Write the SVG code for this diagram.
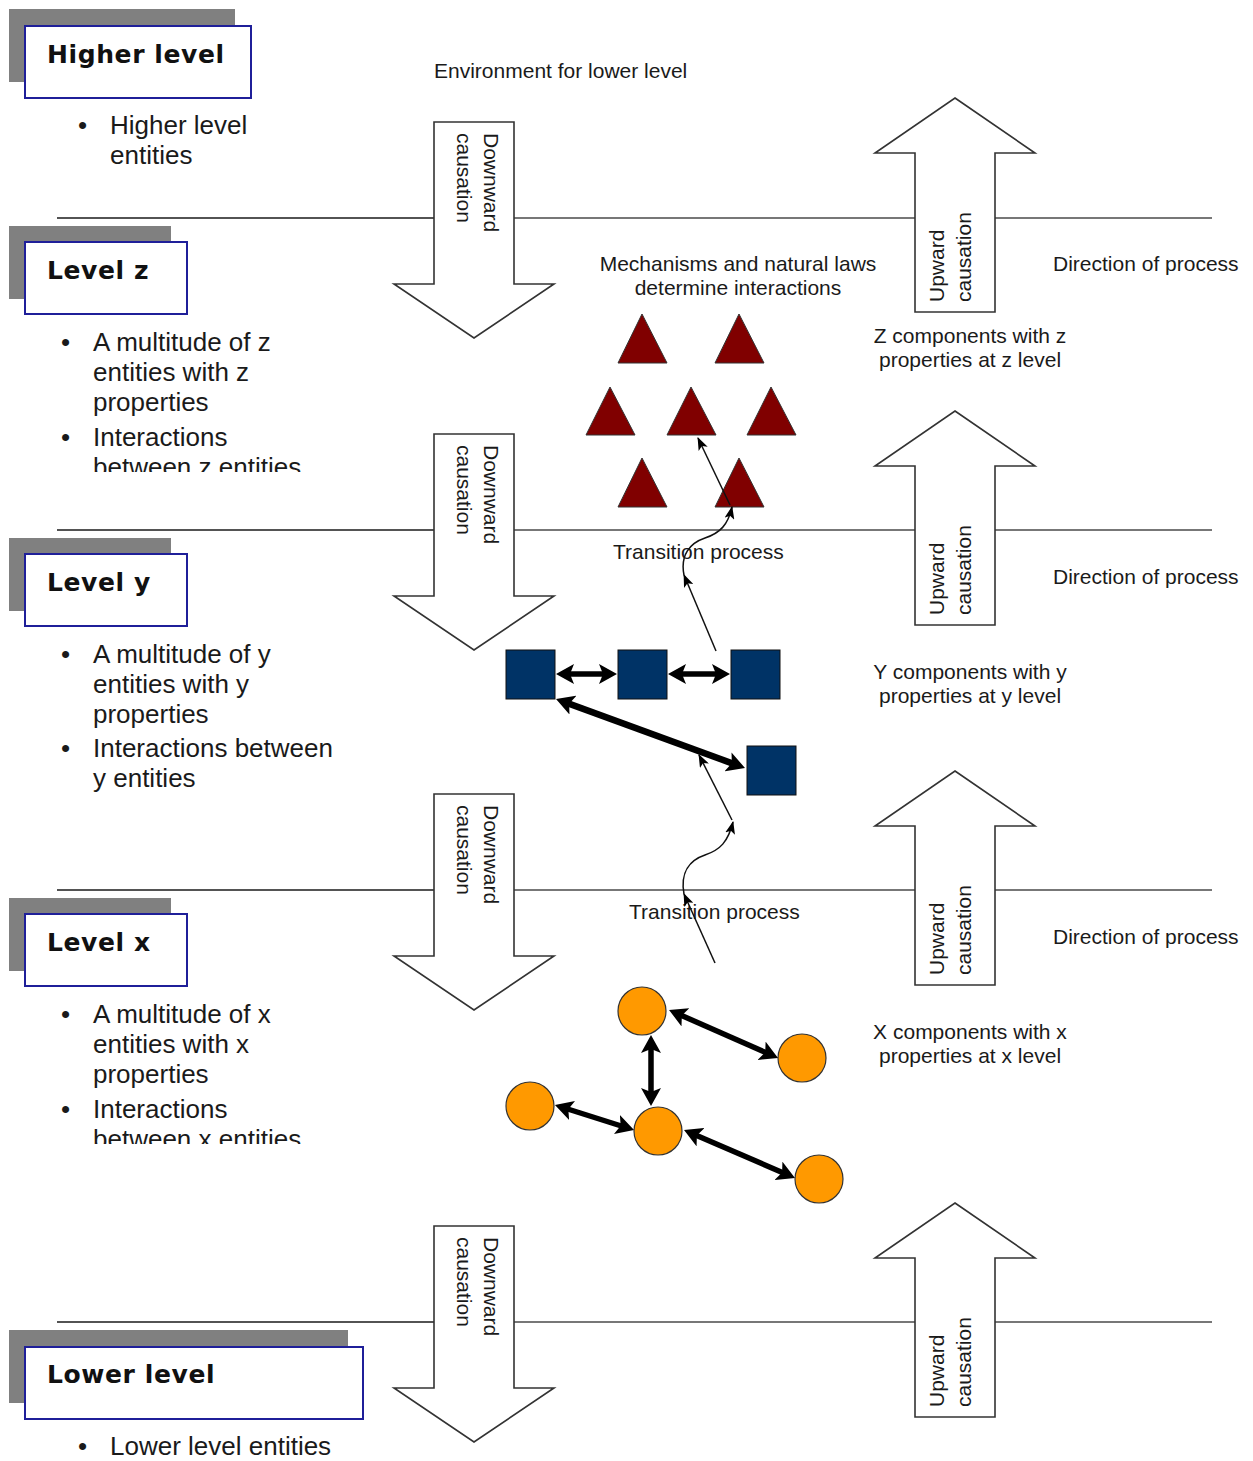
<svg xmlns="http://www.w3.org/2000/svg" width="1253" height="1461" viewBox="0 0 1253 1461">
<style>
.lbl{font-family:"Liberation Sans",Arial,sans-serif;font-size:21px;fill:#1a1a1a}
.bul{font-family:"Liberation Sans",Arial,sans-serif;font-size:26px;fill:#1a1a1a}
.ttl{font-family:"DejaVu Sans",Verdana,sans-serif;font-size:25px;font-weight:bold;letter-spacing:0.6px;fill:#111}
.shadow{fill:#808080}
.box{fill:#fff;stroke:#1f1f99;stroke-width:2}
.bigarrow{fill:#fff;stroke:#333;stroke-width:1.6}
.tri{fill:#800000;stroke:#333;stroke-width:1}
.sq{fill:#003366;stroke:#111;stroke-width:1}
.circ{fill:#ff9900;stroke:#333;stroke-width:1.2}
.thick{stroke:#000;stroke-width:5.5;fill:none;marker-start:url(#dbl);marker-end:url(#dbl)}
.thin{stroke:#111;stroke-width:1.5;fill:none;marker-end:url(#thin)}
.divL{stroke:#1a1a1a;stroke-width:1.6}
.divR{stroke:#777;stroke-width:1.8}
</style>
<defs>
<marker id="dbl" markerUnits="userSpaceOnUse" markerWidth="18" markerHeight="20" refX="8" refY="10" orient="auto-start-reverse" viewBox="0 0 18 20">
<path d="M0,0 L18,10 L0,20 L4,10 Z" fill="#000"/>
</marker>
<marker id="thin" markerUnits="userSpaceOnUse" markerWidth="13" markerHeight="10" refX="12" refY="5" orient="auto" viewBox="0 0 13 10">
<path d="M0,0 L13,5 L0,10 L3,5 Z" fill="#000"/>
</marker>
<clipPath id="clipZ"><rect x="0" y="300" width="400" height="172"/></clipPath>
<clipPath id="clipX"><rect x="0" y="972" width="400" height="172"/></clipPath>
</defs>

<g id="dividers">
<line class="divL" x1="57" y1="218" x2="434" y2="218"/><line class="divR" x1="434" y1="218" x2="1212" y2="218"/>
<line class="divL" x1="57" y1="530" x2="434" y2="530"/><line class="divR" x1="434" y1="530" x2="1212" y2="530"/>
<line class="divL" x1="57" y1="890" x2="434" y2="890"/><line class="divR" x1="434" y1="890" x2="1212" y2="890"/>
<line class="divL" x1="57" y1="1322" x2="434" y2="1322"/><line class="divR" x1="434" y1="1322" x2="1212" y2="1322"/>
</g>

<g id="level-higher">
<rect class="shadow" x="9" y="9" width="226" height="73"/>
<rect class="box" x="25" y="26" width="226" height="72"/>
<text class="ttl" x="47" y="63">Higher level</text>
<text class="bul" x="78" y="134">•</text>
<text class="bul" x="110" y="134">Higher level</text>
<text class="bul" x="110" y="164">entities</text>
</g>

<g id="level-z">
<rect class="shadow" x="9" y="226" width="162" height="73"/>
<rect class="box" x="25" y="242" width="162" height="72"/>
<text class="ttl" x="47" y="279">Level z</text>
<g clip-path="url(#clipZ)">
<text class="bul" x="61" y="351">•</text>
<text class="bul" x="93" y="351">A multitude of z</text>
<text class="bul" x="93" y="381">entities with z</text>
<text class="bul" x="93" y="411">properties</text>
<text class="bul" x="61" y="446">•</text>
<text class="bul" x="93" y="446">Interactions</text>
<text class="bul" x="93" y="476">between z entities</text>
</g>
</g>

<g id="level-y">
<rect class="shadow" x="9" y="538" width="162" height="73"/>
<rect class="box" x="25" y="554" width="162" height="72"/>
<text class="ttl" x="47" y="591">Level y</text>
<text class="bul" x="61" y="663">•</text>
<text class="bul" x="93" y="663">A multitude of y</text>
<text class="bul" x="93" y="693">entities with y</text>
<text class="bul" x="93" y="723">properties</text>
<text class="bul" x="61" y="757">•</text>
<text class="bul" x="93" y="757">Interactions between</text>
<text class="bul" x="93" y="787">y entities</text>
</g>

<g id="level-x">
<rect class="shadow" x="9" y="898" width="162" height="73"/>
<rect class="box" x="25" y="914" width="162" height="72"/>
<text class="ttl" x="47" y="951">Level x</text>
<g clip-path="url(#clipX)">
<text class="bul" x="61" y="1023">•</text>
<text class="bul" x="93" y="1023">A multitude of x</text>
<text class="bul" x="93" y="1053">entities with x</text>
<text class="bul" x="93" y="1083">properties</text>
<text class="bul" x="61" y="1118">•</text>
<text class="bul" x="93" y="1118">Interactions</text>
<text class="bul" x="93" y="1148">between x entities</text>
</g>
</g>

<g id="level-lower">
<rect class="shadow" x="9" y="1330" width="339" height="73"/>
<rect class="box" x="25" y="1347" width="338" height="72"/>
<text class="ttl" x="47" y="1383">Lower level</text>
<text class="bul" x="78" y="1455">•</text>
<text class="bul" x="110" y="1455">Lower level entities</text>
</g>

<g id="down-1">
<polygon class="bigarrow" points="434,122 514,122 514,284 554,284 474,338 394,284 434,284"/>
<text class="lbl" transform="translate(484,133) rotate(90)"><tspan x="0" y="0">Downward</tspan><tspan x="0" y="27">causation</tspan></text>
</g>
<g id="down-2">
<polygon class="bigarrow" points="434,434 514,434 514,596 554,596 474,650 394,596 434,596"/>
<text class="lbl" transform="translate(484,445) rotate(90)"><tspan x="0" y="0">Downward</tspan><tspan x="0" y="27">causation</tspan></text>
</g>
<g id="down-3">
<polygon class="bigarrow" points="434,794 514,794 514,956 554,956 474,1010 394,956 434,956"/>
<text class="lbl" transform="translate(484,805) rotate(90)"><tspan x="0" y="0">Downward</tspan><tspan x="0" y="27">causation</tspan></text>
</g>
<g id="down-4">
<polygon class="bigarrow" points="434,1226 514,1226 514,1388 554,1388 474,1442 394,1388 434,1388"/>
<text class="lbl" transform="translate(484,1237) rotate(90)"><tspan x="0" y="0">Downward</tspan><tspan x="0" y="27">causation</tspan></text>
</g>

<g id="up-1">
<polygon class="bigarrow" points="955,98 1035,153 995,153 995,312 915,312 915,153 875,153"/>
<text class="lbl" transform="translate(944,302) rotate(-90)"><tspan x="0" y="0">Upward</tspan><tspan x="0" y="27">causation</tspan></text>
</g>
<g id="up-2">
<polygon class="bigarrow" points="955,411 1035,466 995,466 995,625 915,625 915,466 875,466"/>
<text class="lbl" transform="translate(944,615) rotate(-90)"><tspan x="0" y="0">Upward</tspan><tspan x="0" y="27">causation</tspan></text>
</g>
<g id="up-3">
<polygon class="bigarrow" points="955,771 1035,826 995,826 995,985 915,985 915,826 875,826"/>
<text class="lbl" transform="translate(944,975) rotate(-90)"><tspan x="0" y="0">Upward</tspan><tspan x="0" y="27">causation</tspan></text>
</g>
<g id="up-4">
<polygon class="bigarrow" points="955,1203 1035,1258 995,1258 995,1417 915,1417 915,1258 875,1258"/>
<text class="lbl" transform="translate(944,1407) rotate(-90)"><tspan x="0" y="0">Upward</tspan><tspan x="0" y="27">causation</tspan></text>
</g>

<g id="labels">
<text class="lbl" x="434" y="78">Environment for lower level</text>
<text class="lbl" x="738" y="271" text-anchor="middle">Mechanisms and natural laws</text>
<text class="lbl" x="738" y="295" text-anchor="middle">determine interactions</text>
<text class="lbl" x="1053" y="271">Direction of process</text>
<text class="lbl" x="1053" y="584">Direction of process</text>
<text class="lbl" x="1053" y="944">Direction of process</text>
<text class="lbl" x="970" y="343" text-anchor="middle">Z components with z</text>
<text class="lbl" x="970" y="367" text-anchor="middle">properties at z level</text>
<text class="lbl" x="970" y="679" text-anchor="middle">Y components with y</text>
<text class="lbl" x="970" y="703" text-anchor="middle">properties at y level</text>
<text class="lbl" x="970" y="1039" text-anchor="middle">X components with x</text>
<text class="lbl" x="970" y="1063" text-anchor="middle">properties at x level</text>
<text class="lbl" x="613" y="559">Transition process</text>
<text class="lbl" x="629" y="919">Transition process</text>
</g>

<g id="z-entities">
<polygon id="tri1" class="tri" points="642,314 667,363 618,363"/>
<polygon id="tri2" class="tri" points="739,314 764,363 715,363"/>
<polygon id="tri3" class="tri" points="610,387 635,435 586,435"/>
<polygon id="tri4" class="tri" points="691,387 716,435 667,435"/>
<polygon id="tri5" class="tri" points="771,387 796,435 747,435"/>
<polygon id="tri6" class="tri" points="642,458 667,507 618,507"/>
<polygon id="tri7" class="tri" points="739,458 764,507 715,507"/>
</g>

<g id="y-entities">
<rect id="sq1" class="sq" x="506" y="650" width="49" height="49"/>
<rect id="sq2" class="sq" x="618" y="650" width="49" height="49"/>
<rect id="sq3" class="sq" x="731" y="650" width="49" height="49"/>
<rect id="sq4" class="sq" x="747" y="746" width="49" height="49"/>
</g>

<g id="x-entities">
<circle id="c1" class="circ" cx="642" cy="1011" r="24"/>
<circle id="c2" class="circ" cx="802" cy="1058" r="24"/>
<circle id="c3" class="circ" cx="530" cy="1106" r="24"/>
<circle id="c4" class="circ" cx="658" cy="1131" r="24"/>
<circle id="c5" class="circ" cx="819" cy="1179" r="24"/>
</g>

<g id="connectors">
<line class="thick" x1="566" y1="674" x2="607" y2="674"/>
<line class="thick" x1="678" y1="674" x2="720" y2="674"/>
<line class="thick" style="stroke-width:6.5" x1="565.4" y1="702.4" x2="735.6" y2="764.6"/>
<line class="thick" x1="678.2" y1="1014" x2="768.9" y2="1054"/>
<line class="thick" x1="651" y1="1045" x2="651" y2="1096"/>
<line class="thick" x1="564.5" y1="1108" x2="624.5" y2="1127"/>
<line class="thick" x1="693.2" y1="1134" x2="785.8" y2="1174"/>
<line class="thin" x1="716" y1="651" x2="684" y2="575"/>
<path class="thin" d="M684,575 C680,555 690,543 705,538 C720,533 728,525 732,507"/>
<line class="thin" x1="730" y1="505" x2="698" y2="438"/>
<line class="thin" x1="715" y1="963" x2="684" y2="894"/>
<path class="thin" d="M684,894 C680,872 690,860 705,855 C720,850 728,842 733,822"/>
<line class="thin" x1="732" y1="820" x2="699" y2="755"/>
</g>
</svg>
